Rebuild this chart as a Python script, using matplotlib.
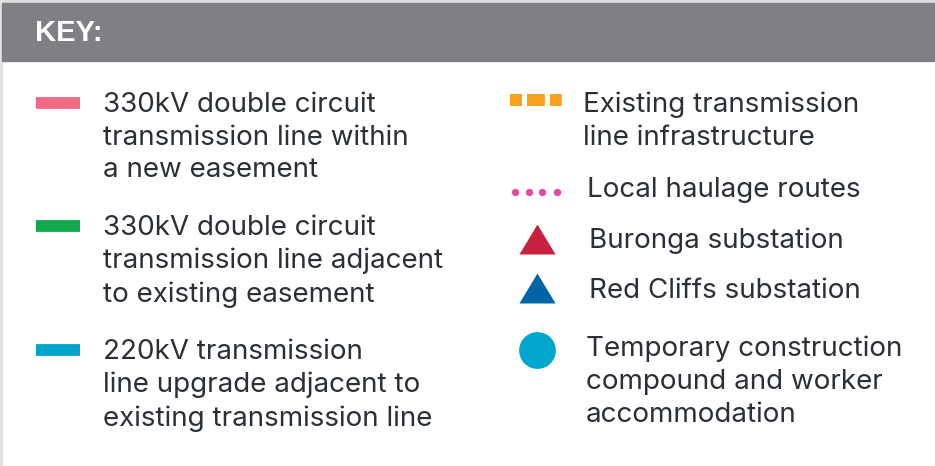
import matplotlib
matplotlib.use("Agg")
import matplotlib.pyplot as plt
from matplotlib.patches import Rectangle

# ---- data ----
title = "KEY:"
left_labels = [
    "330kV double circuit\ntransmission line within\na new easement",
    "330kV double circuit\ntransmission line adjacent\nto existing easement",
    "220kV transmission\nline upgrade adjacent to\nexisting transmission line",
]
left_colors = ["#f26a83", "#12a84b", "#02a6cc"]
right_labels = [
    "Existing transmission\nline infrastructure",
    "Local haulage routes",
    "Buronga substation",
    "Red Cliffs substation",
    "Temporary construction\ncompound and worker\naccommodation",
]
right_colors = ["#f9a11c", "#e04b9f", "#c8203f", "#0064a5", "#02a6cc"]

W, H = 935, 466
fig = plt.figure(figsize=(W / 100, H / 100), dpi=100)
ax = fig.add_axes([0, 0, 1, 1])
ax.set_xlim(0, W)
ax.set_ylim(H, 0)
ax.axis("off")

txt_color = "#2b3036"
FONT = ["Inter", "Liberation Sans"]
FS = 20
LS = 1.335

# background
ax.add_patch(Rectangle((0, 0), W, H, color="white", zorder=0))
ax.add_patch(Rectangle((0, 0), W, 3, color="#dcdcdc", zorder=1))
ax.add_patch(Rectangle((0, 0), 2, H, color="#e3e3e3", zorder=1))
ax.add_patch(Rectangle((2, 3), W - 2, 58, color="#808084", zorder=1))
ax.text(35, 33, title, color="white", fontsize=21, fontweight="bold",
        family=["Liberation Sans Narrow", "Liberation Sans"],
        va="center", ha="left", zorder=3)

# left column
left_y = [103, 226, 350]
for lab, col, y in zip(left_labels, left_colors, left_y):
    ax.plot([36, 80], [y, y], color=col, lw=8.5, solid_capstyle="butt", zorder=2)
    ax.text(103, y - 11, lab, color=txt_color, fontsize=FS, family=FONT,
            va="top", ha="left", linespacing=LS, zorder=3)

# right column
right_y = [100, 192, 239, 288, 350]
text_x = [583, 587, 589, 589, 586]
text_y = [103, 188, 238, 289, 347]
# existing transmission line (dashes)
ax.plot([510, 562], [right_y[0], right_y[0]], color=right_colors[0], lw=8.6,
        dashes=(1.0, 0.42, 1.5, 0.42, 1.0, 5.0), solid_capstyle="butt",
        dash_capstyle="butt", zorder=2)
# haulage dots
ax.plot([515, 528.5, 542, 556.5], [right_y[1]] * 4, ls="none", marker="o",
        ms=5.3, color=right_colors[1], mec="none", zorder=2)
# substations
tri = [(-1, -0.83), (1, -0.83), (0, 0.83), (-1, -0.83)]
ax.plot([537], [right_y[2]], ls="none", marker=tri, ms=26, color=right_colors[2],
        mec="none", zorder=2)
ax.plot([537], [right_y[3]], ls="none", marker=tri, ms=26, color=right_colors[3],
        mec="none", zorder=2)
# compound circle
ax.plot([537], [right_y[4]], ls="none", marker="o", ms=26.5, color=right_colors[4],
        mec="none", zorder=2)

for lab, y, x in zip(right_labels, text_y, text_x):
    ax.text(x, y - 11, lab, color=txt_color, fontsize=FS, family=FONT,
            va="top", ha="left", linespacing=LS, zorder=3)

fig.savefig("out.png", dpi=100)
